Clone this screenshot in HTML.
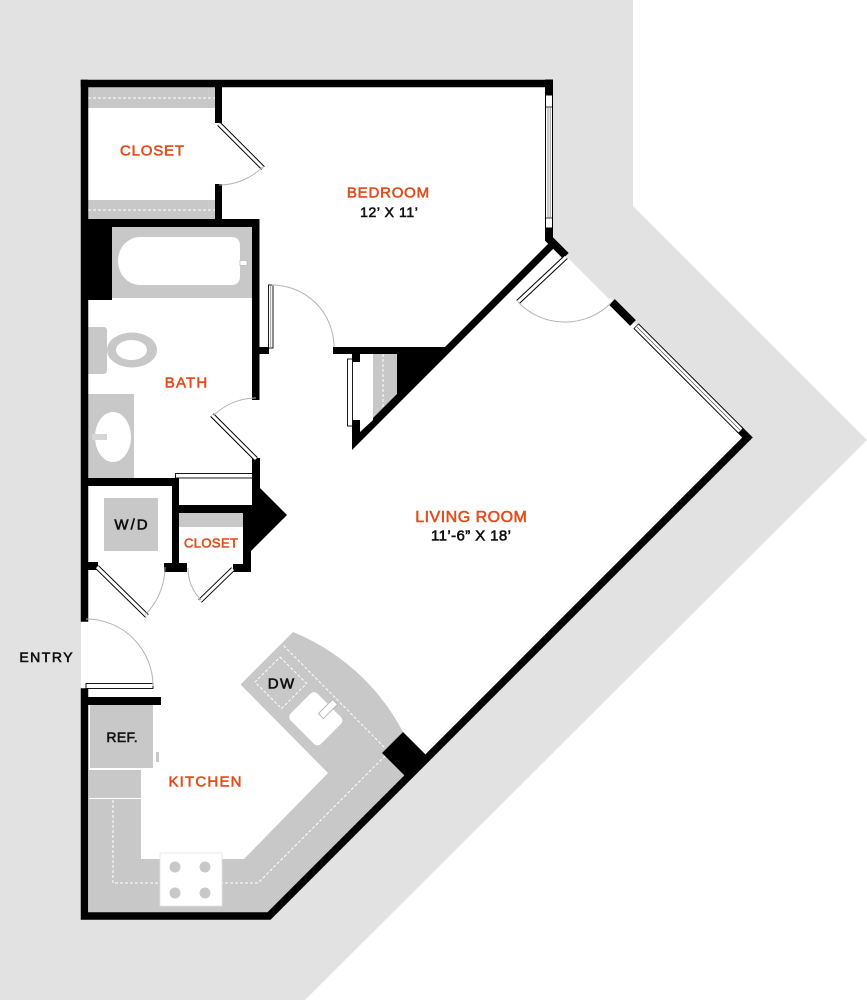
<!DOCTYPE html>
<html><head><meta charset="utf-8"><style>
html,body{margin:0;padding:0;background:#fff;}
svg{display:block;}
text{font-family:"Liberation Sans",sans-serif;}
.o{fill:#e04e1c;stroke:#e04e1c;stroke-width:0.6;}
.k{fill:#111;stroke:#111;stroke-width:0.6;}
.arc{fill:none;stroke:#b4b4b4;stroke-width:1;}
.dash{fill:none;stroke:#fff;stroke-width:1;stroke-dasharray:3 2;}
</style></head><body>
<svg width="867" height="1000" viewBox="0 0 867 1000" xmlns="http://www.w3.org/2000/svg">
<rect width="867" height="1000" fill="#fff"/>
<polygon points="0,0 633,0 633,206 867,440 305,1000 0,1000" fill="#e2e2e2"/>
<!-- apartment floor -->
<polygon points="81,80 553,80 553,240 750,440 270,919 81,919" fill="#fff"/>
<polygon points="566,256 609,299 620,288 577,245" fill="#e2e2e2"/>

<!-- bedroom closet shelves -->
<rect x="88" y="87" width="127" height="21" fill="#c8c8c8"/>
<line x1="88" y1="98" x2="215" y2="98" class="dash"/>
<rect x="88" y="200" width="127" height="19" fill="#c8c8c8"/>
<line x1="88" y1="210" x2="215" y2="210" class="dash"/>

<!-- bathtub -->
<rect x="112" y="227" width="140" height="71" fill="#c8c8c8"/>
<path d="M140,237 H231 Q240,237 240,246 V276 Q240,285 231,285 H140 A22 24 0 0 1 140 237 Z" fill="#fff"/>
<rect x="240" y="260.5" width="7" height="5" fill="#fff" stroke="#bbb" stroke-width="0.8"/>

<!-- toilet -->
<path d="M88,327 H103 Q107,327 107,331 V370 Q107,374 103,374 H88 Z" fill="#c8c8c8"/>
<ellipse cx="132" cy="350" rx="25" ry="17.5" fill="#c8c8c8"/>
<ellipse cx="131.5" cy="350" rx="15.5" ry="10" fill="#fff"/>

<!-- vanity -->
<rect x="88" y="394" width="46" height="84" fill="#c8c8c8"/>
<ellipse cx="113" cy="437" rx="18" ry="25" fill="#fff"/>
<rect x="92" y="434" width="15" height="6" fill="#d6d6d6"/>

<!-- W/D -->
<rect x="104" y="498" width="54" height="53" fill="#c8c8c8"/>
<!-- small closet shelf -->
<rect x="179" y="513" width="64" height="14" fill="#c8c8c8"/>

<!-- kitchen -->
<rect x="90" y="705" width="63" height="63" fill="#c8c8c8"/>
<rect x="156" y="752" width="3" height="10" fill="#c8c8c8"/>
<path d="M89,770 H141 V859 H244 L328,773 L240.5,684.5 L293,632 A217 217 0 0 1 403,732 L382,753 L404.5,775.5 L267,913 H89 Z" fill="#c8c8c8"/>
<line x1="89" y1="798.5" x2="141" y2="798.5" stroke="#fff" stroke-width="1"/>
<polyline points="113,800 113,883 258,883 389,752 283,645" class="dash"/>
<rect x="-18.7" y="-17.7" width="37.5" height="35.4" class="dash" transform="translate(280.75,682.75) rotate(45)"/>
<rect x="-21.5" y="-19" width="43" height="38" rx="5" fill="#fff" transform="translate(315.75,718.75) rotate(45)"/>
<rect x="-10" y="-3.5" width="20" height="7" fill="#fff" stroke="#b8b8b8" stroke-width="1" transform="translate(328,709) rotate(-45)"/>
<rect x="160" y="853" width="62" height="53" fill="#fff" stroke="#e4e4e4" stroke-width="0.8"/>
<circle cx="175" cy="867" r="5.5" fill="#c8c8c8"/>
<circle cx="205" cy="867" r="5.5" fill="#c8c8c8"/>
<circle cx="175" cy="893" r="5.5" fill="#c8c8c8"/>
<circle cx="205" cy="893" r="5.5" fill="#c8c8c8"/>
<polygon points="403,732 382,753 409.5,780.5 430.5,759.5" fill="#000"/>

<!-- WALLS -->
<g stroke="#000" fill="none" stroke-linecap="square" stroke-linejoin="miter">
<line x1="84.5" y1="83.5" x2="549" y2="83.5" stroke-width="7.5"/>
<line x1="84.5" y1="83.5" x2="84.5" y2="618" stroke-width="7.5"/>
<polyline points="741,431 747.5,437.5 269,916 84.5,916 84.5,692" stroke-width="7.5"/>
<line x1="549" y1="83.5" x2="549" y2="94" stroke-width="8"/>
<polyline points="549,229 549,239 563,253" stroke-width="8"/>
<line x1="612" y1="302" x2="633" y2="323" stroke-width="8" stroke-linecap="butt"/>
</g>
<g fill="#000">
<rect x="215" y="80" width="7" height="43"/>
<rect x="215" y="184" width="7" height="40"/>
<rect x="81" y="219" width="178" height="8"/>
<rect x="88" y="227" width="24" height="73"/>
<rect x="252" y="219" width="7.5" height="181"/>
<rect x="259" y="347" width="10" height="7"/>
<polygon points="333,347 445,347 553,239 558,244 352,450 352,354 333,354"/>
<rect x="81" y="478" width="98" height="8"/>
<rect x="172" y="478" width="7" height="94"/>
<rect x="172" y="505" width="80" height="8"/>
<polygon points="243,505 252,505 252,458 260,458 260,488 287,515 251,551 251,572 233,572 233,564 243,564"/>
<rect x="88" y="562" width="10" height="8"/>
<rect x="164" y="563" width="23" height="9"/>
<rect x="81" y="697" width="80" height="8"/>
</g>
<!-- storage interior -->
<polygon points="360,354 373,354 373,420 360,432" fill="#fff"/>
<rect x="352" y="362" width="9" height="58" fill="#fff"/>
<polygon points="373,354 397,354 397,394 373,418" fill="#c8c8c8"/>
<line x1="383" y1="354" x2="383" y2="408" class="dash"/>
<rect x="347.5" y="359" width="5" height="67" fill="#fff" stroke="#000" stroke-width="0.9"/>

<!-- bedroom window -->
<rect x="545.5" y="95" width="7" height="133" fill="#fff" stroke="#000" stroke-width="1"/>
<line x1="545.5" y1="107" x2="552.5" y2="107" stroke="#000" stroke-width="0.8"/>
<line x1="545.5" y1="218" x2="552.5" y2="218" stroke="#000" stroke-width="0.8"/>
<line x1="548" y1="107" x2="548" y2="218" stroke="#777" stroke-width="0.8"/>
<line x1="550.2" y1="107" x2="550.2" y2="218" stroke="#777" stroke-width="0.8"/>

<!-- living window -->
<line x1="636" y1="326" x2="741" y2="431" stroke="#000" stroke-width="7.5"/>
<line x1="636.5" y1="326.5" x2="740.5" y2="430.5" stroke="#fff" stroke-width="5.5"/>
<line x1="637" y1="327" x2="740" y2="430" stroke="#555" stroke-width="0.7"/>

<!-- door panels -->
<g stroke-linecap="butt">
<line x1="219" y1="124" x2="263" y2="168" stroke="#000" stroke-width="5"/>
<line x1="219" y1="124" x2="263" y2="168" stroke="#fff" stroke-width="3"/>
<line x1="212" y1="415" x2="256" y2="459" stroke="#000" stroke-width="5"/>
<line x1="212" y1="415" x2="256" y2="459" stroke="#fff" stroke-width="3"/>
<line x1="97" y1="567" x2="147" y2="616" stroke="#000" stroke-width="5"/>
<line x1="97" y1="567" x2="147" y2="616" stroke="#fff" stroke-width="3"/>
<line x1="233" y1="569" x2="200" y2="601" stroke="#000" stroke-width="5"/>
<line x1="233" y1="569" x2="200" y2="601" stroke="#fff" stroke-width="3"/>
<line x1="566" y1="257" x2="518" y2="302" stroke="#000" stroke-width="5"/>
<line x1="566" y1="257" x2="518" y2="302" stroke="#fff" stroke-width="3"/>
</g>
<rect x="268.5" y="285" width="4.5" height="63" fill="#fff" stroke="#000" stroke-width="0.9"/>
<line x1="270.7" y1="286" x2="270.7" y2="347" stroke="#888" stroke-width="0.8"/>
<rect x="86" y="683.5" width="67" height="5" fill="#fff" stroke="#000" stroke-width="0.9"/>
<rect x="175.5" y="473.5" width="77" height="4.5" fill="#fff" stroke="#000" stroke-width="0.9"/>

<!-- arcs -->
<path class="arc" d="M262.8 166.8 A62 62 0 0 1 219 185"/>
<path class="arc" d="M272 285 A62 62 0 0 1 334 347"/>
<path class="arc" d="M213.6 415.6 A60 60 0 0 1 256 398"/>
<path class="arc" d="M145 615 A68 68 0 0 0 165 567"/>
<path class="arc" d="M201 600 A45 45 0 0 1 188 568"/>
<path class="arc" d="M153 686 A67 67 0 0 0 86 619"/>
<path class="arc" d="M518 302 A65 65 0 0 0 611 303"/>

<!-- labels -->
<text x="152.4" y="155.5" font-size="15" letter-spacing="0.8" text-anchor="middle" class="o">CLOSET</text>
<text x="388.4" y="197.5" font-size="15" letter-spacing="0.8" text-anchor="middle" class="o">BEDROOM</text>
<text x="389.3" y="217" font-size="14" letter-spacing="0.6" text-anchor="middle" class="k">12’ X 11’</text>
<text x="186.6" y="387.5" font-size="15" letter-spacing="1.2" text-anchor="middle" class="o">BATH</text>
<text x="132" y="529.5" font-size="15" letter-spacing="2" text-anchor="middle" class="k">W/D</text>
<text x="211.2" y="547.7" font-size="13" letter-spacing="0.4" text-anchor="middle" class="o">CLOSET</text>
<text x="471.3" y="522" font-size="16" letter-spacing="0.5" text-anchor="middle" class="o">LIVING ROOM</text>
<text x="471.2" y="540.4" font-size="15" letter-spacing="0.4" text-anchor="middle" class="k">11’-6” X 18’</text>
<text x="46.7" y="662" font-size="14" letter-spacing="1.5" text-anchor="middle" class="k">ENTRY</text>
<text x="122.2" y="742" font-size="14" letter-spacing="0.3" text-anchor="middle" class="k">REF.</text>
<text x="281.7" y="688.5" font-size="15" letter-spacing="1.5" text-anchor="middle" class="k">DW</text>
<text x="205.6" y="786.5" font-size="15" letter-spacing="1.2" text-anchor="middle" class="o">KITCHEN</text>
</svg>
</body></html>
